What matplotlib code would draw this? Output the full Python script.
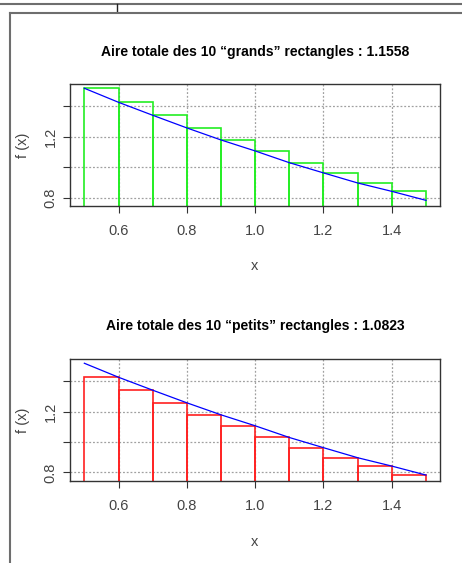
import matplotlib

matplotlib.use("Agg")
import matplotlib.pyplot as plt
from matplotlib.lines import Line2D

# ---------------------------------------------------------------------------
# Data: f(x) at x = 0.5, 0.6, ..., 1.5
# ---------------------------------------------------------------------------
x_points = [0.5, 0.6, 0.7, 0.8, 0.9, 1.0, 1.1, 1.2, 1.3, 1.4, 1.5]
f_values = [1.518, 1.426, 1.341, 1.258, 1.179, 1.107, 1.030, 0.963, 0.897, 0.842, 0.783]

x_left = x_points[:-1]
big_heights = f_values[:-1]      # left endpoints -> "grands" rectangles
small_heights = f_values[1:]     # right endpoints -> "petits" rectangles

x_ticks = [0.6, 0.8, 1.0, 1.2, 1.4]
x_tick_labels = ["0.6", "0.8", "1.0", "1.2", "1.4"]
y_ticks = [0.8, 1.0, 1.2, 1.4]
y_tick_labels = ["0.8", "", "1.2", ""]

titles = ["Aire totale des 10 \u201cgrands\u201d rectangles : 1.1558",
          "Aire totale des 10 \u201cpetits\u201d rectangles : 1.0823"]

NARROW = ["Liberation Sans Narrow", "Liberation Sans", "DejaVu Sans"]
W, H = 462, 563

fig = plt.figure(figsize=(W / 100, H / 100), dpi=100)

# window frame lines (screenshot border)
frame = "#6e6e6e"
fig.add_artist(Line2D([0, 1], [1 - 4 / H, 1 - 4 / H], color=frame, lw=1.5))
fig.add_artist(Line2D([117 / W, 117 / W], [1 - 4 / H, 1 - 12 / H], color="#222222", lw=1.0))
fig.add_artist(Line2D([10 / W, 1], [1 - 13 / H, 1 - 13 / H], color=frame, lw=1.5))
fig.add_artist(Line2D([10 / W, 10 / W], [0, 1 - 13 / H], color=frame, lw=1.5))


def panel(ax_rect, heights, edge, title, title_y, xlab_y):
    ax = fig.add_axes(ax_rect)
    ax.set_xlim(0.458, 1.541)
    ax.set_ylim(0.746, 1.544)
    for xv in x_ticks:
        ax.axvline(xv, color="#a0a0a0", lw=0.9, ls=(0, (1.5, 1.5)), zorder=0)
    for yv in y_ticks:
        ax.axhline(yv, color="#a0a0a0", lw=0.9, ls=(0, (1.5, 1.5)), zorder=0)
    ax.bar(x_left, heights, width=0.1, align="edge", fill=False,
           edgecolor=edge, lw=1.2, zorder=2)
    ax.plot(x_points, f_values, color="#0000ff", lw=0.9, zorder=3)

    ax.set_xticks(x_ticks)
    ax.set_xticklabels(x_tick_labels)
    ax.set_yticks(y_ticks)
    ax.set_yticklabels(y_tick_labels, rotation=90, va="center")
    ax.tick_params(length=5, width=0.8, color="#333333", labelcolor="#444444",
                   labelsize=10.5)
    ax.tick_params(axis="x", pad=8)
    ax.tick_params(axis="y", pad=4)
    for lab in ax.get_xticklabels() + ax.get_yticklabels():
        lab.set_family(NARROW)
    for sp in ax.spines.values():
        sp.set_color("#333333")
        sp.set_linewidth(1.0)

    cx = ax_rect[0] + ax_rect[2] / 2
    fig.text(cx, 1 - title_y / H, title, ha="center", va="center",
             fontsize=10, fontweight="bold", family=NARROW)
    fig.text(cx, 1 - xlab_y / H, "x", ha="center", va="center",
             fontsize=10.5, color="#444444", family=NARROW)
    fig.text(23 / W, ax_rect[1] + ax_rect[3] / 2, "f (x)", rotation=90,
             ha="center", va="center", fontsize=10.5, color="#444444", family=NARROW)
    return ax


panel([70 / W, 1 - 206 / H, 370 / W, 121.7 / H], big_heights, "#22ee22",
      titles[0], 51.7, 266)
panel([70 / W, 1 - 480.7 / H, 370 / W, 121.4 / H], small_heights, "#ff2020",
      titles[1], 326, 541.7)

fig.savefig("out.png", dpi=100)
